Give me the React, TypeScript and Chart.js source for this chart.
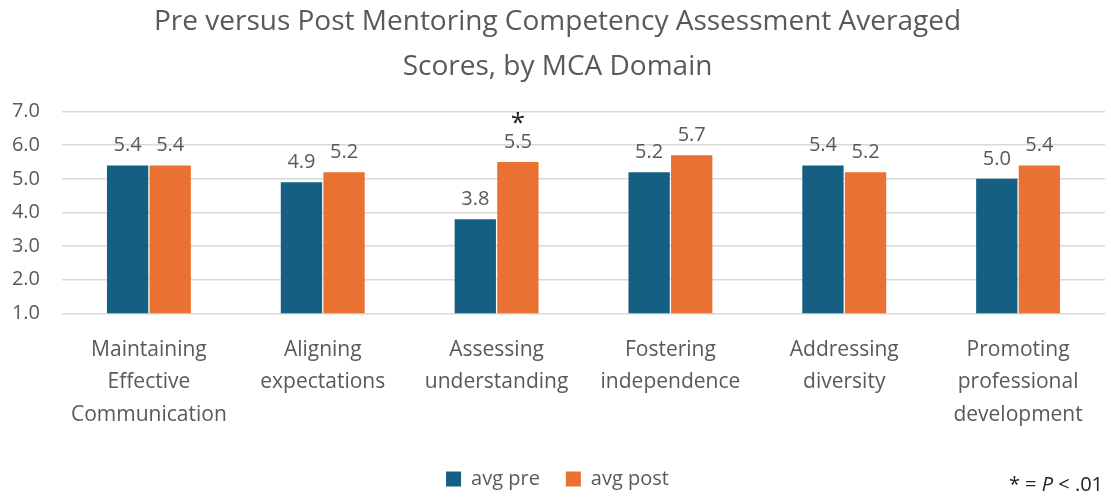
import React, { useEffect, useRef } from "react";
import { Chart, registerables } from "chart.js";

Chart.register(...registerables);

const titleLines = ["Pre versus Post Mentoring Competency Assessment Averaged", "Scores, by MCA Domain"];
const categories = [
  ["Maintaining", "Effective", "Communication"],
  ["Aligning", "expectations"],
  ["Assessing", "understanding"],
  ["Fostering", "independence"],
  ["Addressing", "diversity"],
  ["Promoting", "professional", "development"],
];
const avgPre = [5.4, 4.9, 3.8, 5.2, 5.4, 5.0];
const avgPost = [5.4, 5.2, 5.5, 5.7, 5.2, 5.4];
const postSignificant = [false, false, true, false, false, false];
const yMin = 1;
const yMax = 7;
const yStep = 1;

const FONT = "'Open Sans', sans-serif";
const GRAY = "#595959";

const dataLabelPlugin = {
  id: "dataLabels",
  afterDatasetsDraw(chart: any) {
    const ctx = chart.ctx;
    ctx.save();
    ctx.font = `20px ${FONT}`;
    ctx.fillStyle = GRAY;
    ctx.textAlign = "center";
    ctx.textBaseline = "middle";
    chart.data.datasets.forEach((ds: any, di: number) => {
      const meta = chart.getDatasetMeta(di);
      meta.data.forEach((bar: any, i: number) => {
        const v = ds.data[i];
        ctx.fillText(Number(v).toFixed(1), bar.x, bar.y - 20);
        if (di === 1 && postSignificant[i]) {
          ctx.save();
          ctx.fillStyle = "#222";
          ctx.font = `26px ${FONT}`;
          ctx.fillText("*", bar.x, bar.y - 38);
          ctx.restore();
        }
      });
    });
    ctx.restore();
  },
};

const footnotePlugin = {
  id: "footnote",
  afterDraw(chart: any) {
    const ctx = chart.ctx;
    ctx.save();
    ctx.fillStyle = "#222";
    ctx.textBaseline = "middle";
    ctx.textAlign = "left";
    const parts = [
      { t: "* = ", f: `20px ${FONT}` },
      { t: "P", f: `italic 20px ${FONT}` },
      { t: " < .01", f: `20px ${FONT}` },
    ];
    let total = 0;
    parts.forEach((p) => {
      ctx.font = p.f;
      total += ctx.measureText(p.t).width;
    });
    let x = 1103 - total;
    const y = 485;
    parts.forEach((p) => {
      ctx.font = p.f;
      ctx.fillText(p.t, x, y);
      x += ctx.measureText(p.t).width;
    });
    ctx.restore();
  },
};

export default function App() {
  const ref = useRef<HTMLCanvasElement | null>(null);
  useEffect(() => {
    if (!ref.current) return;
    const chart = new Chart(ref.current, {
      type: "bar",
      data: {
        labels: categories,
        datasets: [
          {
            label: "avg pre",
            data: avgPre,
            backgroundColor: "#156082",
            categoryPercentage: 0.49,
            barPercentage: 0.97,
          },
          {
            label: "avg post",
            data: avgPost,
            backgroundColor: "#E97132",
            categoryPercentage: 0.49,
            barPercentage: 0.97,
          },
        ],
      },
      options: {
        responsive: false,
        animation: false,
        devicePixelRatio: 1,
        layout: { padding: { left: 10, right: 6, top: 0, bottom: 1 } },
        plugins: {
          title: {
            display: true,
            text: titleLines,
            color: GRAY,
            font: { family: FONT, size: 28, weight: "normal", lineHeight: 1.6 },
            padding: { top: 0, bottom: 22 },
          },
          legend: {
            position: "bottom",
            labels: {
              boxWidth: 15,
              boxHeight: 15,
              color: GRAY,
              font: { family: FONT, size: 20 },
              padding: 26,
            },
          },
          tooltip: { enabled: false },
        },
        scales: {
          x: {
            grid: { display: false },
            border: { display: false },
            ticks: {
              color: GRAY,
              font: { family: FONT, size: 21, lineHeight: 1.55 },
              padding: 12,
              maxRotation: 0,
              autoSkip: false,
            },
          },
          y: {
            min: yMin,
            max: yMax,
            border: { display: false },
            grid: { color: "#d9d9d9", drawTicks: false, lineWidth: 1.5 },
            afterFit: (scale: any) => {
              scale.width = 52;
            },
            ticks: {
              stepSize: yStep,
              color: GRAY,
              font: { family: FONT, size: 20 },
              padding: 22,
              callback: (v: any) => Number(v).toFixed(1),
            },
          },
        },
      },
      plugins: [dataLabelPlugin, footnotePlugin],
    });
    return () => chart.destroy();
  }, []);
  return (
    <div style={{ position: "fixed", left: 0, top: 0, width: 1111, height: 500, background: "#fff" }}>
      <canvas ref={ref} width={1111} height={500} />
    </div>
  );
}
